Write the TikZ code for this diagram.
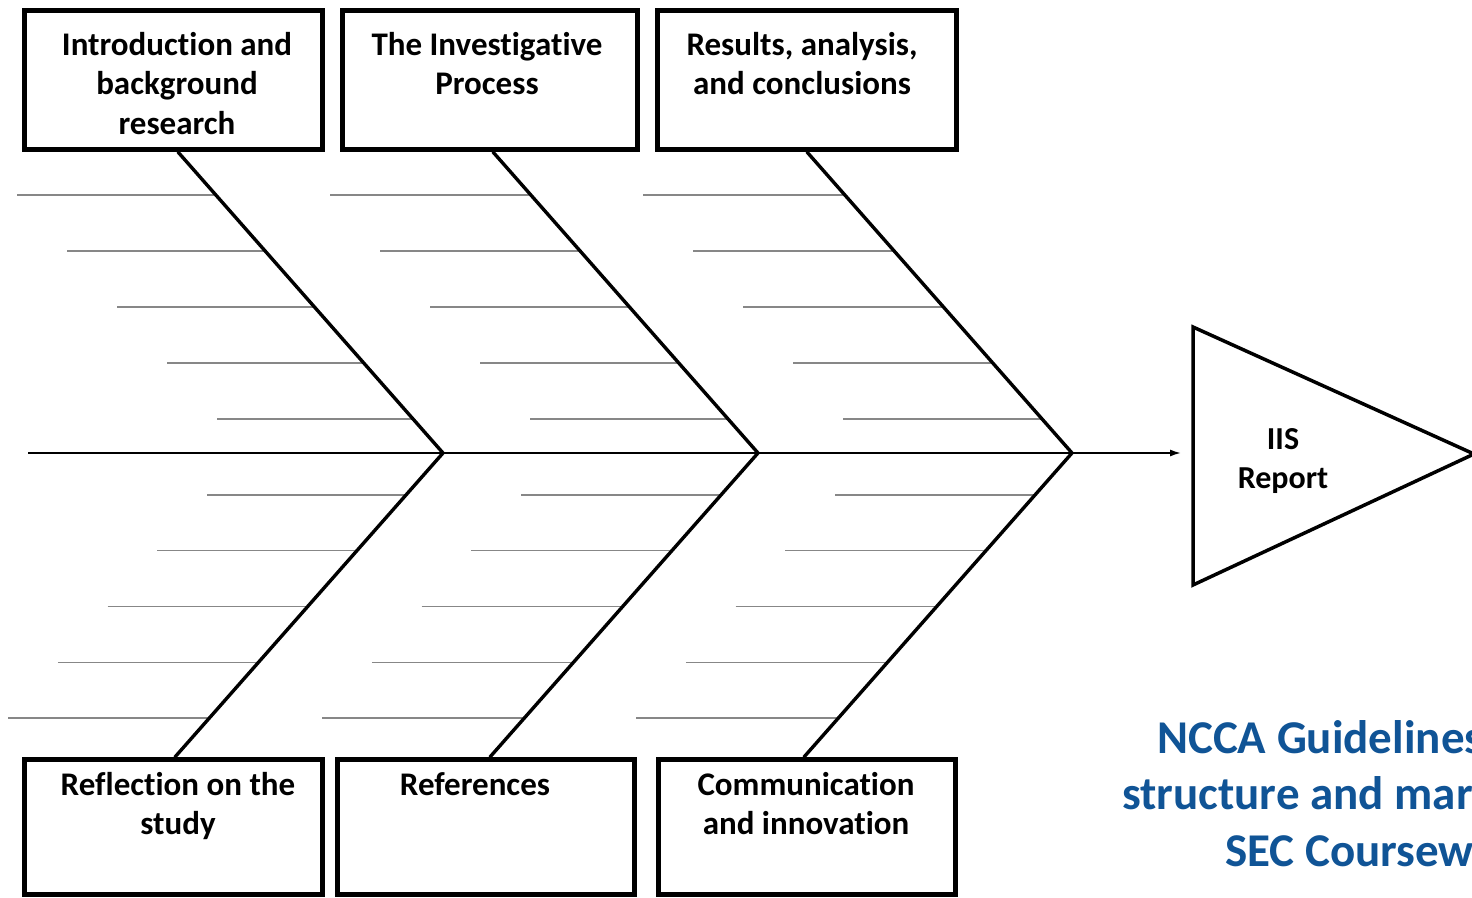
\documentclass[tikz,border=0pt]{standalone}
\usepackage{fontspec}
\setmainfont{Carlito}[Ligatures=NoCommon]
\usetikzlibrary{arrows.meta,calc}
\definecolor{nccablue}{RGB}{16,84,150}
\definecolor{ribgray}{RGB}{135,135,135}
\begin{document}
\begin{tikzpicture}[x=1pt,y=-1pt,
  catbox/.style={draw=black,line width=5pt,inner sep=0pt,fill=white},
  boxlabel/.style={anchor=north,inner sep=0pt,align=center,
    font=\fontsize{33}{39.5}\selectfont\bfseries},
  spine/.style={line width=3.4pt,line cap=round,line join=miter},
  axis/.style={line width=2.4pt},
  rib/.style={draw=ribgray,line width=1.4pt},
  tri/.style={draw=black,line width=3.5pt,line join=miter},
  title/.style={anchor=base west,inner sep=0pt,text=nccablue,
    font=\fontsize{47}{56}\selectfont\bfseries}]

% canvas
\useasboundingbox (0,0) rectangle (1472,897);
\clip (0,0) rectangle (1472,897);
\fill[white] (0,0) rectangle (1472,897);

% junctions on the main axis
\coordinate (v1) at (443,453);
\coordinate (v2) at (758,453);
\coordinate (v3) at (1072,453);
\coordinate (tail) at (28,453);

% ribs on each bone
\foreach \vx [count=\g from 0] in {443,758,1072}{
  \foreach \i in {0,...,4}{
    \pgfmathsetmacro{\ty}{195+56*\i}
    \pgfmathsetmacro{\tx}{17+50*\i+313*\g}
    \pgfmathsetmacro{\te}{\vx-(453-\ty)/301*265}
    \draw[rib] (\tx,\ty) -- (\te,\ty);
    \pgfmathsetmacro{\by}{495+55.75*\i}
    \pgfmathsetmacro{\bx}{207-49.75*\i+314*\g}
    \pgfmathsetmacro{\be}{\vx-(\by-453)/304*268}
    \draw[rib] (\bx,\by) -- (\be,\by);
  }
}

% main axis
\draw[axis] (tail) -- (v3);

% category boxes, top row
\node[catbox,minimum width=298pt,minimum height=139pt] (b1) at (173.5,80) {};
\node[catbox,minimum width=295pt,minimum height=139pt] (b2) at (490,80) {};
\node[catbox,minimum width=298.5pt,minimum height=139pt] (b3) at (806.75,80) {};
% category boxes, bottom row
\node[catbox,minimum width=298pt,minimum height=135pt] (b4) at (173.5,827) {};
\node[catbox,minimum width=297pt,minimum height=135pt] (b5) at (486,827) {};
\node[catbox,minimum width=296.5pt,minimum height=135pt] (b6) at (806.75,827) {};

% bones from the boxes to the axis
\coordinate (s1) at (178,152);
\coordinate (s2) at (493,152);
\coordinate (s3) at (807,152);
\coordinate (e1) at (175,757);
\coordinate (e2) at (490,757);
\coordinate (e3) at (804,757);
\draw[spine] (s1) -- (v1) -- (e1);
\draw[spine] (s2) -- (v2) -- (e2);
\draw[spine] (s3) -- (v3) -- (e3);

% labels in the boxes
\node[boxlabel] (l1) at (177,32) {Introduction and\\background\\research};
\node[boxlabel] (l2) at (487,32) {The Investigative\\Process};
\node[boxlabel] (l3) at (802,32) {Results, analysis,\\and conclusions};
\node[boxlabel] (l4) at (178,772) {Reflection on the\\study};
\node[boxlabel] (l5) at (475,772) {References};
\node[boxlabel] (l6) at (806,772) {Communication\\and innovation};

% head of the fish
\coordinate (ta) at (1193,327);
\coordinate (tb) at (1474,454);
\coordinate (tc) at (1193,585);
\coordinate (tin) at (1193,453);
\draw[tri] (ta) -- (tb) -- (tc) -- cycle;
\draw[line width=1.6pt,-{Latex[length=11pt,width=7pt]},shorten >=12pt] (v3) -- (tin);
\node[align=center,inner sep=0pt,font=\fontsize{32}{39}\selectfont\bfseries] (rep) at (1283,461) {IIS\\Report};

% caption
\node[title] (c1) at (1157,753) {NCCA Guidelines};
\node[title] (c2) at (1122,809) {structure and mar};
\node[title] (c3) at (1225,866) {SEC Coursew};
\end{tikzpicture}
\end{document}
